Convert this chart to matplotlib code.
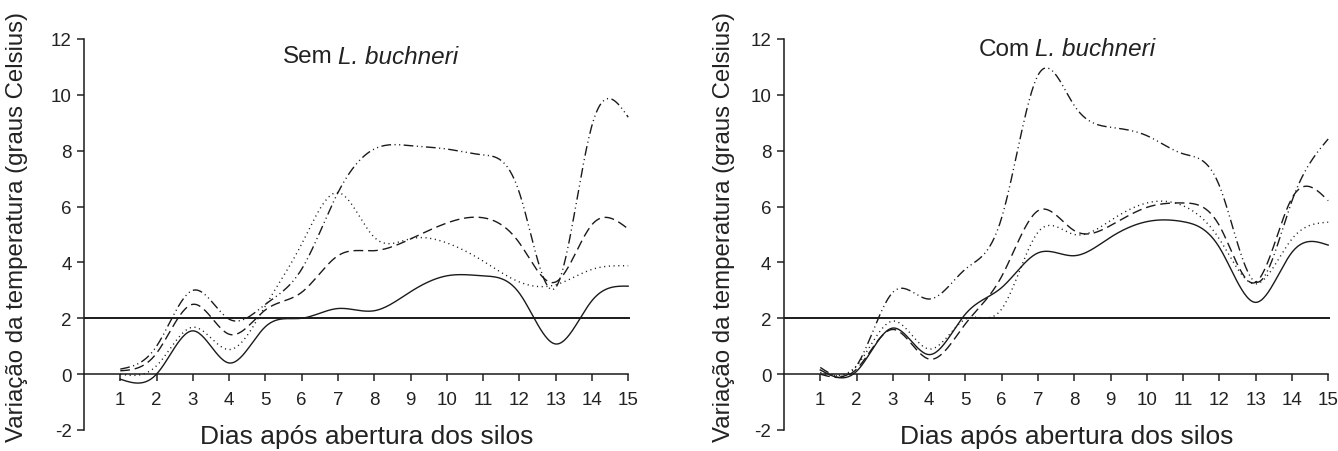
import numpy as np
import matplotlib
matplotlib.use("Agg")
import matplotlib.pyplot as plt

plt.rcParams['font.family'] = ['Liberation Sans', 'DejaVu Sans']
plt.rcParams['axes.unicode_minus'] = False

# dias apos abertura dos silos
dias = [1, 2, 3, 4, 5, 6, 7, 8, 9, 10, 11, 12, 13, 14, 15]

# Sem L. buchneri
sem_solid = [-0.18, 0.0, 1.55, 0.4, 1.7, 2.0, 2.35, 2.27, 2.95, 3.52, 3.52, 2.9, 1.08, 2.63, 3.15]
sem_dot = [0.0, 0.3, 1.68, 0.88, 2.45, 4.66, 6.5, 4.9, 4.85, 4.7, 4.05, 3.3, 3.2, 3.75, 3.88]
sem_dash = [0.12, 0.75, 2.5, 1.43, 2.3, 2.93, 4.24, 4.42, 4.84, 5.41, 5.6, 4.7, 3.3, 5.35, 5.2]
sem_dashdot = [0.18, 1.0, 3.0, 1.97, 2.5, 3.76, 6.5, 8.06, 8.18, 8.06, 7.85, 6.5, 3.1, 8.9, 9.2]

# Com L. buchneri
com_solid = [0.15, 0.1, 1.65, 0.7, 2.15, 3.1, 4.34, 4.24, 4.9, 5.46, 5.46, 4.54, 2.57, 4.36, 4.62]
com_dot = [0.06, 0.3, 1.9, 0.9, 1.97, 2.33, 5.08, 5.0, 5.5, 6.13, 6.03, 4.84, 3.23, 4.84, 5.44]
com_dash = [0.0, 0.18, 1.6, 0.54, 1.8, 3.5, 5.85, 5.14, 5.32, 5.97, 6.13, 5.32, 3.29, 6.3, 6.21]
com_dashdot = [0.24, 0.3, 2.93, 2.69, 3.76, 5.6, 10.7, 9.62, 8.84, 8.54, 7.89, 6.75, 3.3, 6.2, 8.42]

ref_line = 2  # linha de referencia


def smooth(x, y, n=400):
    # spline cubica natural so para desenhar a curva suavizada
    x = np.asarray(x, float)
    y = np.asarray(y, float)
    k = len(x)
    h = np.diff(x)
    A = np.zeros((k, k))
    b = np.zeros(k)
    A[0, 0] = A[-1, -1] = 1
    for i in range(1, k - 1):
        A[i, i - 1] = h[i - 1]
        A[i, i] = 2 * (h[i - 1] + h[i])
        A[i, i + 1] = h[i]
        b[i] = 6 * ((y[i + 1] - y[i]) / h[i] - (y[i] - y[i - 1]) / h[i - 1])
    M = np.linalg.solve(A, b)
    xs = np.linspace(x[0], x[-1], n)
    j = np.clip(np.searchsorted(x, xs) - 1, 0, k - 2)
    t1 = x[j + 1] - xs
    t0 = xs - x[j]
    hj = h[j]
    ys = (M[j] * t1 ** 3 + M[j + 1] * t0 ** 3) / (6 * hj) \
        + (y[j] / hj - M[j] * hj / 6) * t1 + (y[j + 1] / hj - M[j + 1] * hj / 6) * t0
    return xs, ys


fig = plt.figure(figsize=(13.38, 4.52), dpi=100)
W, H = 1338, 452

txt = '#222222'
lc = '#1a1a1a'
styles = [
    dict(linestyle='-'),
    dict(linestyle=(0, (0.8, 2.6))),
    dict(linestyle=(0, (7, 3.5))),
    dict(linestyle=(0, (7, 2.5, 0.8, 2.5, 0.8, 2.5))),
]

panels = [
    (84, [sem_solid, sem_dot, sem_dash, sem_dashdot], "Sem", 338, 57, 6),
    (784, [com_solid, com_dot, com_dash, com_dashdot], "Com", 1035, 50, 713),
]

for left_px, series, word, tx, ty, lx in panels:
    ax = fig.add_axes([left_px / W, 1 - 431 / H, (630 - 84) / W, (431 - 40) / H])
    for vals, st in zip(series, styles):
        xs, ys = smooth(dias, vals)
        ax.plot(xs, ys, color=lc, lw=1.0, **st)
    ax.axhline(ref_line, color=lc, lw=1.4)

    ax.set_xlim(0, 15.05)
    ax.set_ylim(-2, 12)
    ax.spines['top'].set_visible(False)
    ax.spines['right'].set_visible(False)
    ax.spines['bottom'].set_position(('data', 0))
    ax.spines['bottom'].set_bounds(0, 15)
    for s in ('left', 'bottom'):
        ax.spines[s].set_color(lc)
        ax.spines[s].set_linewidth(1.1)
    ax.set_xticks(dias)
    ax.set_yticks(range(-2, 13, 2))
    ax.tick_params(axis='x', direction='out', length=5, width=1.1, pad=7,
                   labelsize=13.5, colors=txt)
    ax.tick_params(axis='y', direction='out', length=5, width=1.1, pad=4,
                   labelsize=13.5, colors=txt)
    ax.patch.set_visible(False)

    # titulo com nome da bacteria em italico
    fig.text((tx - 5) / W, 1 - ty / H, word, ha='right', va='center',
             fontsize=17.5, color=txt)
    fig.text(tx / W, 1 - ty / H, "L. buchneri", ha='left', va='center',
             fontsize=17.5, style='italic', color=txt)

    fig.text((left_px + 283) / W, 1 - 437 / H, "Dias após abertura dos silos",
             ha='center', va='center', fontsize=19, color=txt)
    fig.text(lx / W, 1 - 12 / H, "Variação da temperatura (graus Celsius)",
             rotation=90, ha='left', va='top', fontsize=17.3, color=txt)

fig.savefig("out.png", dpi=100)
